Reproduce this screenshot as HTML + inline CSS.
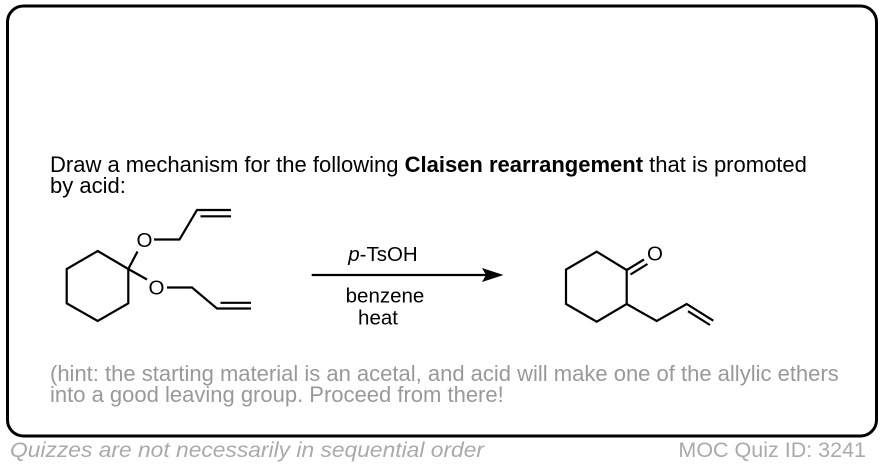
<!DOCTYPE html>
<html>
<head>
<meta charset="utf-8">
<style>
  html, body { margin: 0; padding: 0; background: #fff; }
  body { width: 884px; height: 468px; overflow: hidden; }
  svg { display: block; }
  text { font-family: "Liberation Sans", Arial, Helvetica, sans-serif; }
</style>
</head>
<body>
<svg width="884" height="468" viewBox="0 0 884 468" xmlns="http://www.w3.org/2000/svg">
  <!-- outer rounded box -->
  <rect x="7.5" y="6" width="869" height="430" rx="16" ry="16" fill="#fff" stroke="#000" stroke-width="3"/>

  <!-- question text -->
  <text x="50" y="172" font-size="22" fill="#000">Draw a mechanism for the following <tspan font-weight="bold">Claisen rearrangement</tspan> that is promoted</text>
  <text x="50" y="193" font-size="22" fill="#000">by acid:</text>

  <!-- starting material -->
  <g stroke="#000" stroke-width="2.2" fill="none" stroke-linecap="butt" stroke-linejoin="miter">
    <polygon points="97.7,251 128.3,269 128.3,303.3 97.7,321 66.7,303.3 66.7,269"/>
    <line x1="128.3" y1="269" x2="137.5" y2="251.5"/>
    <polyline points="154,239.5 179.5,239.5 197,210 231,210"/>
    <line x1="200.5" y1="216.3" x2="231" y2="216.3"/>
    <line x1="128.3" y1="269" x2="147" y2="279.5"/>
    <polyline points="167,287.5 192,287.5 217,308.5 251,308.5"/>
    <line x1="220.5" y1="302.8" x2="251" y2="302.8"/>
  </g>
  <text x="144.5" y="247" font-size="20.5" text-anchor="middle">O</text>
  <text x="156.5" y="294.7" font-size="20.5" text-anchor="middle">O</text>

  <!-- arrow -->
  <line x1="311.7" y1="275" x2="488" y2="275" stroke="#000" stroke-width="2.2"/>
  <path d="M503.5,275 L482,268 L486,275 L482,282 Z" fill="#000"/>
  <text x="383" y="261" font-size="20.5" text-anchor="middle"><tspan font-style="italic">p</tspan>-TsOH</text>
  <text x="385" y="302.5" font-size="20.5" text-anchor="middle">benzene</text>
  <text x="378" y="324.5" font-size="20.5" text-anchor="middle">heat</text>

  <!-- product -->
  <g stroke="#000" stroke-width="2.2" fill="none" stroke-linecap="butt" stroke-linejoin="miter">
    <polygon points="596.7,251.7 626.7,270 626.7,304 596.7,321.7 566,304 566,269.5"/>
    <line x1="626.7" y1="270" x2="644" y2="259.5"/>
    <line x1="630.5" y1="274.5" x2="647.5" y2="264"/>
    <polyline points="626.7,304 656.7,321 686.7,304 713.3,320.7"/>
    <line x1="688" y1="311.2" x2="710" y2="325"/>
  </g>
  <text x="655" y="260.7" font-size="20.5" text-anchor="middle">O</text>

  <!-- hint -->
  <text x="50" y="381" font-size="22" fill="#999">(hint: the starting material is an acetal, and acid will make one of the allylic ethers</text>
  <text x="50" y="402" font-size="22" fill="#999">into a good leaving group. Proceed from there!</text>

  <!-- footer -->
  <text x="10" y="457" font-size="21.5" font-style="italic" fill="#aaa" textLength="474" lengthAdjust="spacingAndGlyphs">Quizzes are not necessarily in sequential order</text>
  <text x="866" y="457" font-size="21.5" fill="#aaa" text-anchor="end">MOC Quiz ID: 3241</text>
</svg>
</body>
</html>
